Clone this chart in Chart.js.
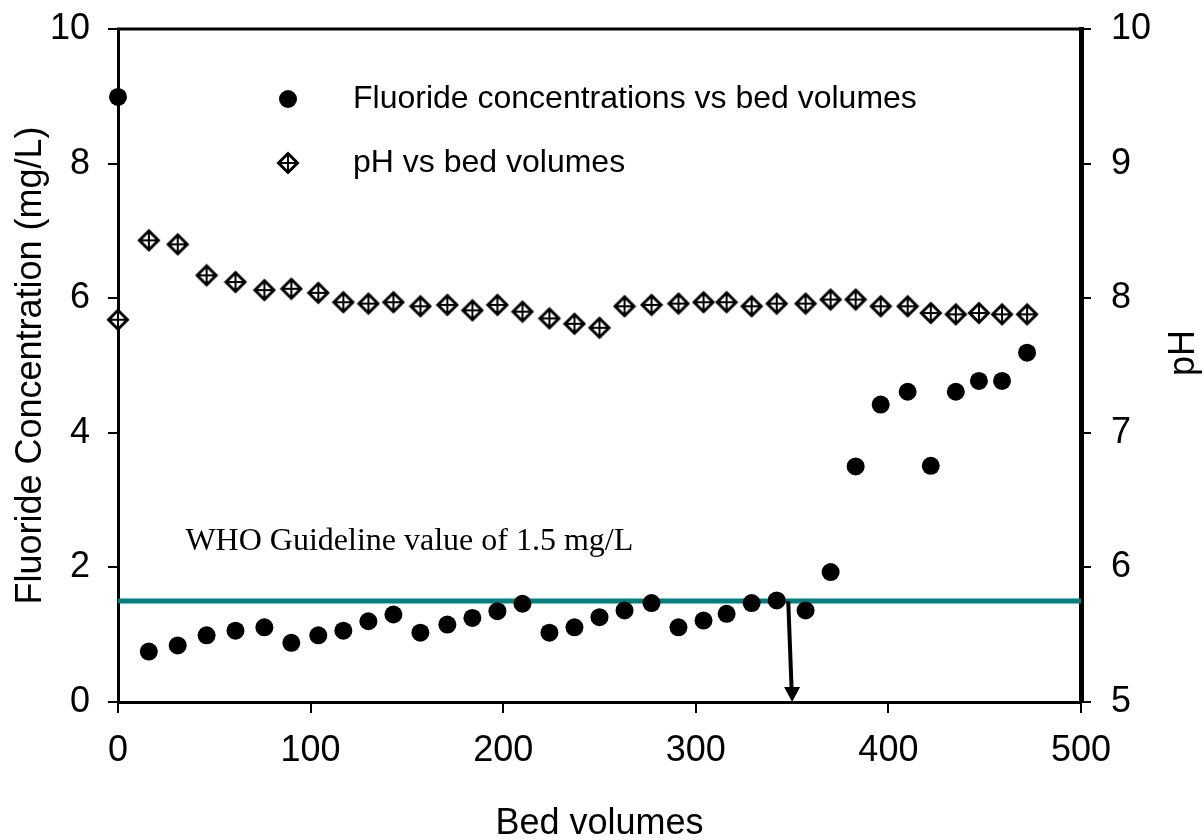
<!DOCTYPE html>
<html>
<head>
<meta charset="utf-8">
<title>Fluoride concentration and pH vs bed volumes</title>
<script src="https://cdn.jsdelivr.net/npm/chart.js@4.4.1/dist/chart.umd.min.js"></script>
<style>
  html, body { margin: 0; padding: 0; background: #fff; }
  #wrap { width: 1204px; height: 840px; }
</style>
</head>
<body>
<div id="wrap"><canvas id="chart" width="1204" height="840"></canvas></div>
<script>
// column data
var bedVolumes = [0, 16, 31, 46, 61, 76, 90, 104, 117, 130, 143, 157, 171, 184, 197, 210, 224, 237,
                  250, 263, 277, 291, 304, 316, 329, 342, 357, 370, 383, 396, 410, 422, 435, 447, 459, 472];
var fluoride = [8.99, 0.75, 0.84, 0.99, 1.06, 1.11, 0.88, 0.99, 1.06, 1.20, 1.30, 1.03, 1.15, 1.25, 1.35, 1.46, 1.03, 1.11,
                1.26, 1.36, 1.47, 1.11, 1.21, 1.31, 1.47, 1.51, 1.36, 1.93, 3.50, 4.42, 4.61, 3.51, 4.61, 4.77, 4.77, 5.19];
var ph = [7.84, 8.43, 8.40, 8.17, 8.12, 8.06, 8.07, 8.04, 7.97, 7.96, 7.97, 7.94, 7.95, 7.91, 7.95, 7.90, 7.85, 7.81,
          7.78, 7.94, 7.95, 7.96, 7.97, 7.97, 7.94, 7.96, 7.96, 7.99, 7.99, 7.94, 7.94, 7.89, 7.88, 7.89, 7.88, 7.88];

var xTicks = [0, 100, 200, 300, 400, 500];
var fluorideTicks = [0, 2, 4, 6, 8, 10];
var phTicks = [5, 6, 7, 8, 9, 10];

var whoLimit = 1.5;              // mg/L
var breakthroughTop = 348;       // arrow start (bed volumes, on the WHO line)
var breakthroughBottom = 350;    // arrow tip on the x axis

var SANS = '"Liberation Sans", Arial, sans-serif';
var SERIF = '"Liberation Serif", "Times New Roman", serif';

// diamond with a cross inside, used for the pH series
function makeDiamond() {
  var c = document.createElement('canvas');
  c.width = 24; c.height = 24;
  var g = c.getContext('2d');
  var m = 12, r = 9.5;
  g.beginPath();
  g.moveTo(m, m - r); g.lineTo(m + r, m); g.lineTo(m, m + r); g.lineTo(m - r, m);
  g.closePath();
  g.fillStyle = '#fff';
  g.fill();
  g.lineWidth = 3;
  g.strokeStyle = '#000';
  g.stroke();
  g.lineWidth = 2;
  g.beginPath();
  g.moveTo(m, m - r + 1); g.lineTo(m, m + r - 1);
  g.moveTo(m - r + 1, m); g.lineTo(m + r - 1, m);
  g.stroke();
  return c;
}
var diamond = makeDiamond();

function points(ys) {
  return bedVolumes.map(function (x, i) { return { x: x, y: ys[i] }; });
}

function setTicks(values) {
  return function (scale) {
    scale.ticks = values.map(function (v) { return { value: v }; });
  };
}

// fixed box sizes so the plot area sits at 118..1081 x 29..702
function fixWidth(w) {
  return function (s) { s.width = w; s.paddingTop = 0; s.paddingBottom = 0; };
}
function fixHeight(h) {
  return function (s) { s.height = h; s.paddingLeft = 0; s.paddingRight = 0; };
}

var extras = {
  id: 'extras',
  beforeDatasetsDraw: function (chart) {
    var ctx = chart.ctx, x = chart.scales.x, y = chart.scales.y;
    ctx.save();
    // WHO guideline
    ctx.strokeStyle = '#008080';
    ctx.lineWidth = 5;
    ctx.beginPath();
    ctx.moveTo(x.getPixelForValue(0), y.getPixelForValue(whoLimit));
    ctx.lineTo(x.getPixelForValue(500), y.getPixelForValue(whoLimit));
    ctx.stroke();
    ctx.fillStyle = '#000';
    ctx.font = '32px ' + SERIF;
    ctx.textBaseline = 'alphabetic';
    ctx.textAlign = 'left';
    ctx.fillText('WHO Guideline value of 1.5 mg/L', x.getPixelForValue(35), y.getPixelForValue(2.26));
    ctx.restore();
  },
  afterDraw: function (chart) {
    var ctx = chart.ctx, a = chart.chartArea;
    var x = chart.scales.x, y = chart.scales.y;
    ctx.save();

    // top frame line
    ctx.strokeStyle = '#000';
    ctx.lineWidth = 3;
    ctx.beginPath();
    ctx.moveTo(a.left - 1, a.top);
    ctx.lineTo(a.right + 2, a.top);
    ctx.stroke();

    // breakthrough arrow
    var x0 = x.getPixelForValue(breakthroughTop), y0 = y.getPixelForValue(whoLimit);
    var x1 = x.getPixelForValue(breakthroughBottom), y1 = y.getPixelForValue(0);
    ctx.lineWidth = 4;
    ctx.beginPath();
    ctx.moveTo(x0, y0);
    ctx.lineTo(x1 - (x1 - x0) * 14 / (y1 - y0), y1 - 14);
    ctx.stroke();
    ctx.fillStyle = '#000';
    ctx.beginPath();
    ctx.moveTo(x1, y1);
    ctx.lineTo(x1 - 8, y1 - 15);
    ctx.lineTo(x1 + 8, y1 - 15);
    ctx.closePath();
    ctx.fill();

    // legend
    ctx.beginPath();
    ctx.arc(288, 99, 9, 0, Math.PI * 2);
    ctx.fill();
    ctx.drawImage(diamond, 288 - 12, 163 - 12);
    ctx.font = '32px ' + SANS;
    ctx.textAlign = 'left';
    ctx.textBaseline = 'middle';
    ctx.fillText('Fluoride concentrations vs bed volumes', 353, 99);
    ctx.fillText('pH vs bed volumes', 353, 163);

    // axis titles
    ctx.font = '36px ' + SANS;
    ctx.textAlign = 'center';
    ctx.textBaseline = 'alphabetic';
    ctx.fillText('Bed volumes', (a.left + a.right) / 2, 834);

    ctx.save();
    ctx.translate(41, (a.top + a.bottom) / 2);
    ctx.rotate(-Math.PI / 2);
    ctx.fillText('Fluoride Concentration (mg/L)', 0, 0);
    ctx.restore();

    ctx.save();
    ctx.translate(1194, 353);
    ctx.rotate(-Math.PI / 2);
    ctx.fillText('pH', 0, 0);
    ctx.restore();

    ctx.restore();
  }
};

var tickFont = { family: SANS, size: 36 };

new Chart(document.getElementById('chart'), {
  type: 'scatter',
  data: {
    datasets: [{
      label: 'Fluoride concentrations vs bed volumes',
      data: points(fluoride),
      yAxisID: 'y',
      pointStyle: 'circle',
      pointRadius: 9,
      backgroundColor: '#000',
      borderColor: '#000',
      borderWidth: 0,
      clip: false
    }, {
      label: 'pH vs bed volumes',
      data: points(ph),
      yAxisID: 'y1',
      pointStyle: diamond,
      pointRadius: 12,
      clip: false
    }]
  },
  options: {
    responsive: false,
    animation: false,
    events: [],
    layout: { padding: { top: 29 } },
    plugins: { legend: { display: false }, tooltip: { enabled: false } },
    scales: {
      x: {
        type: 'linear', min: 0, max: 500,
        afterBuildTicks: setTicks(xTicks),
        afterFit: fixHeight(138),
        grid: { drawOnChartArea: false, tickLength: 11, color: '#000', lineWidth: 2 },
        border: { color: '#000', width: 3 },
        ticks: { font: tickFont, color: '#000', padding: 16, maxRotation: 0 }
      },
      y: {
        position: 'left', min: 0, max: 10,
        afterBuildTicks: setTicks(fluorideTicks),
        afterFit: fixWidth(118),
        grid: { drawOnChartArea: false, tickLength: 10, color: '#000', lineWidth: 2 },
        border: { color: '#000', width: 3 },
        ticks: { font: tickFont, color: '#000', padding: 18 }
      },
      y1: {
        position: 'right', min: 5, max: 10,
        afterBuildTicks: setTicks(phTicks),
        afterFit: fixWidth(123),
        grid: { drawOnChartArea: false, tickLength: 10, color: '#000', lineWidth: 2 },
        border: { color: '#000', width: 5 },
        ticks: { font: tickFont, color: '#000', padding: 20 }
      }
    }
  },
  plugins: [extras]
});
</script>
</body>
</html>
